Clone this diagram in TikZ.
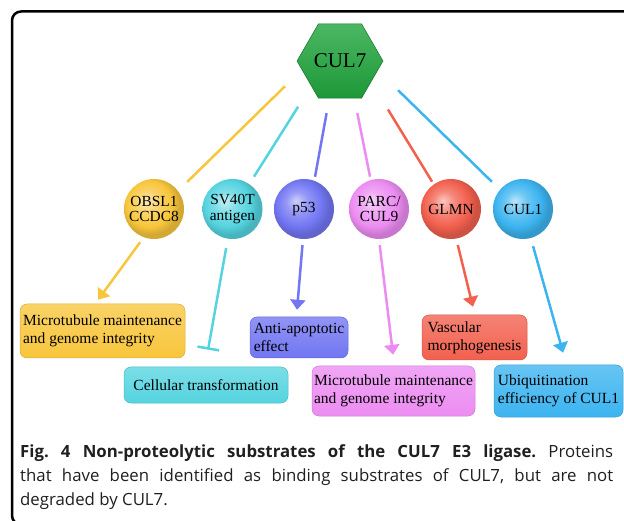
\documentclass[tikz,border=0pt]{standalone}
\usepackage{fontspec}
\setmainfont{Liberation Serif}
\newfontfamily\legende{Open Sans}
\usetikzlibrary{shapes.geometric,arrows.meta}

\definecolor{vert}{HTML}{1FA53C}
\definecolor{jaune}{HTML}{F8C63C}
\definecolor{turquoise}{HTML}{55D4E0}
\definecolor{violet}{HTML}{7276F2}
\definecolor{rose}{HTML}{EC8CF2}
\definecolor{rouge}{HTML}{F2604E}
\definecolor{ciel}{HTML}{3CB4F0}

\colorlet{bulle}{gray}
\pgfdeclareradialshading[bulle]{bille}{\pgfqpoint{-7bp}{7bp}}{color(0bp)=(bulle!35!white); color(9bp)=(bulle!75!white); color(19bp)=(bulle); color(25bp)=(bulle!85!black); color(50bp)=(bulle!85!black)}

\tikzset{
  hexa/.style={regular polygon, regular polygon sides=6, minimum size=86pt, inner sep=0pt,
    top color=vert!80!white, bottom color=vert!92!black, draw=vert!70!black, line width=0.5pt,
    font=\fontsize{21}{21}\selectfont},
  bulle/.style={circle, minimum size=60pt, inner sep=0pt, /utils/exec={\colorlet{bulle}{#1}},
    shading=bille, align=center, font=\fontsize{15.4}{15.5}\selectfont},
  boite/.style={rectangle, rounded corners=7pt, top color=#1!78!white, bottom color=#1,
    draw=#1!88!black, line width=0.5pt, align=left, inner sep=0pt,
    font=\fontsize{15.5}{18}\selectfont},
  lien/.style={draw=#1, line width=2.5pt},
  fleche/.style={draw=#1, line width=2.5pt, -{Triangle[width=15pt,length=10pt]}},
}

\begin{document}
\begin{tikzpicture}[x=1pt,y=-1pt]
    % Cadre
    \path[use as bounding box] (0,0) rectangle (624,521);
    \clip (0,0) rectangle (624,521);
    \draw[line width=2.5pt, rounded corners=9pt] (12,11.5) rectangle (660,524.5);

    % CUL7
    \node[hexa] (cul7) at (340,61) {CUL7};

    % Substrats
    \foreach \nom/\x/\coul/\texte in {obsl/154/jaune/{OBSL1\\CCDC8}, sv40/232.5/turquoise/{SV40T\\antigen},
        p53/304/violet/{p53}, parc/379/rose/{PARC/\\CUL9}, glmn/451/rouge/{GLMN}, cul1/523/ciel/{CUL1}}
        \node[bulle=\coul] (\nom) at (\x,209) {\texte};

    % Liens vers CUL7
    \foreach \nom/\a/\s/\b/\t/\coul in {obsl/193/23.5/37/12.7/jaune, sv40/221/24.4/56/8.6/turquoise,
        p53/254/14.9/70/3.9/violet, parc/291/14.9/106/3.3/rose, glmn/326/32.2/125/3/rouge,
        cul1/346/28.3/140/11.1/ciel}
        \draw[lien=\coul, shorten <=\s pt, shorten >=\t pt] (cul7.\a) -- (\nom.\b);

    % Effets
    \node[boite=jaune, minimum width=165pt, minimum height=54pt] (mtj) at (102.5,331)
        {Microtubule maintenance\\and genome integrity};
    \node[boite=turquoise, minimum width=164pt, minimum height=36pt] (ctr) at (206,385)
        {Cellular transformation};
    \node[boite=violet, minimum width=98pt, minimum height=41pt] (aae) at (299,337.5)
        {Anti-apoptotic\\effect};
    \node[boite=rose, minimum width=163pt, minimum height=50pt] (mtr) at (393.5,391)
        {Microtubule maintenance\\and genome integrity};
    \node[boite=rouge, minimum width=105pt, minimum height=45pt] (vm) at (474.5,337.5)
        {Vascular\\morphogenesis};
    \node[boite=ciel, minimum width=129pt, minimum height=52pt] (uec) at (558.5,391)
        {Ubiquitination\\efficiency of CUL1};

    % Fleches
    \draw[fleche=jaune, shorten <=6pt, shorten >=5pt] (obsl.250) -- (mtj.105);
    \draw[lien=turquoise, -{Bar[width=22pt]}, shorten <=9.4pt, shorten >=17.3pt] (sv40.261) -- (ctr.93);
    \draw[fleche=violet, shorten <=6pt, shorten >=7pt] (p53.268) -- (aae.97);
    \draw[fleche=rose, shorten <=6pt, shorten >=11pt] (parc.270) -- (mtr.88);
    \draw[fleche=rouge, shorten <=6.5pt, shorten >=8.3pt] (glmn.280) -- (vm.89);
    \draw[fleche=ciel, shorten <=8.3pt, shorten >=12.5pt] (cul1.285) -- (uec.73);

    % Legende
    \node[anchor=base west, inner sep=0pt, text width=593pt, align=justify, text=black!88] (leg) at (20,457)
        {\legende\fontsize{16.8}{24}\selectfont\frenchspacing
        \textbf{Fig. 4 Non-proteolytic substrates of the CUL7 E3 ligase.} Proteins\linebreak
        that have been identified as binding substrates of CUL7, but are not\linebreak
        degraded by CUL7.\par};
\end{tikzpicture}
\end{document}
